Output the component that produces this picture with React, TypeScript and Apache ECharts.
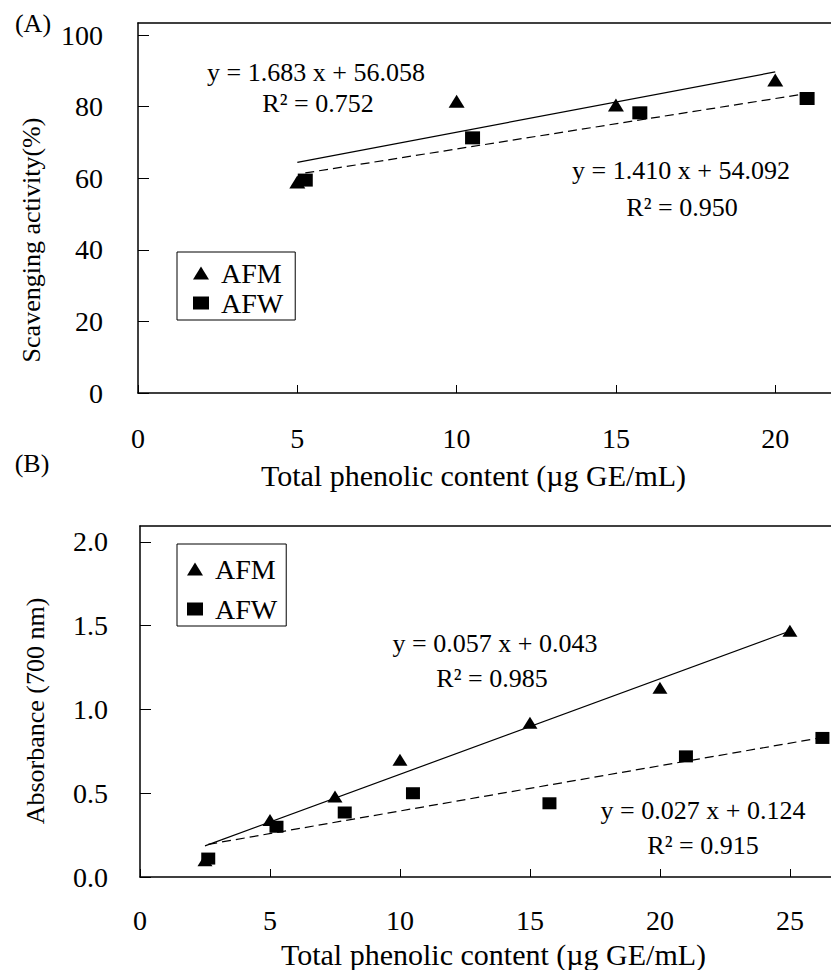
import React, { useEffect, useRef } from "react";
import * as echarts from "echarts";

// ---------- data ----------
// (A) DPPH scavenging activity vs total phenolic content
const topAFMx = [5, 10, 15, 20];
const topAFMy = [59, 81.5, 80.5, 87.5];
const topAFWx = [5.25, 10.5, 15.75, 21];
const topAFWy = [59.5, 71.3, 78.3, 82.3];
// trend line coefficients shown on chart (A): [AFM, AFW]
const topSlopes = [1.683, 1.41];
const topIntercepts = [56.058, 54.092];
const topR2 = [0.752, 0.95];

// (B) Reducing power (absorbance at 700 nm) vs total phenolic content
const botAFMx = [2.5, 5, 7.5, 10, 15, 20, 25];
const botAFMy = [0.1, 0.34, 0.48, 0.7, 0.92, 1.13, 1.47];
const botAFWx = [2.625, 5.25, 7.875, 10.5, 15.75, 21, 26.25];
const botAFWy = [0.11, 0.3, 0.385, 0.5, 0.44, 0.72, 0.83];
// trend line coefficients shown on chart (B): [AFM, AFW]
const botSlopes = [0.057, 0.027];
const botIntercepts = [0.043, 0.124];
const botR2 = [0.985, 0.915];

const seriesNames = ["AFM", "AFW"];
const xAxisTitle = "Total phenolic content (\u00b5g GE/mL)";
const topYTitle = "Scavenging activity(%)";
const botYTitle = "Absorbance (700 nm)";

const FONT = "'Liberation Serif', 'Times New Roman', Times, serif";

const zip = (xs: number[], ys: number[]) => xs.map((x, i) => [x, ys[i]]);
const fitLine = (xs: number[], m: number, b: number) => {
  const x0 = Math.min(...xs);
  const x1 = Math.max(...xs);
  return [
    [x0, m * x0 + b],
    [x1, m * x1 + b],
  ];
};
const eqText = (m: number, b: number) => `y = ${m.toFixed(3)} x + ${b.toFixed(3)}`;
const r2Text = (r: number) => `R\u00b2 = ${r.toFixed(3)}`;

const axisLine = { show: true, onZero: false, lineStyle: { color: "#000", width: 1.5 } };

function xAxisMain(gridIndex: number, max: number, margin: number, nameGap: number, namePad: number[]) {
  return {
    gridIndex,
    type: "value",
    min: 0,
    max,
    interval: 5,
    position: "bottom",
    axisLine,
    axisTick: { show: true, inside: true, length: 8, lineStyle: { color: "#000", width: 1 } },
    axisLabel: { showMaxLabel: false, margin, fontSize: 28, color: "#000", fontFamily: FONT },
    splitLine: { show: false },
    name: xAxisTitle,
    nameLocation: "middle",
    nameGap,
    nameTextStyle: { fontSize: 30, color: "#000", fontFamily: FONT, padding: namePad },
  };
}
function xAxisTop(gridIndex: number, max: number) {
  return {
    gridIndex,
    type: "value",
    min: 0,
    max,
    position: "top",
    axisLine,
    axisTick: { show: false },
    axisLabel: { show: false },
    splitLine: { show: false },
  };
}

function legendAt(left: number, top: number, itemGap: number, padding: number[]) {
  return {
    left,
    top,
    orient: "vertical",
    data: [
      { name: seriesNames[0], icon: "triangle" },
      { name: seriesNames[1], icon: "rect" },
    ],
    itemWidth: 16,
    itemHeight: 13,
    itemGap,
    padding,
    borderColor: "#000",
    borderWidth: 1,
    selectedMode: false,
    itemStyle: { opacity: 1, color: "#000" },
    textStyle: { fontFamily: FONT, fontSize: 28, color: "#000", lineHeight: 24, padding: [0, 0, 0, 7] },
  };
}

function txt(text: string, x: number, y: number, fontSize: number, rotation = 0) {
  return {
    type: "text",
    x,
    y,
    rotation,
    z: 10,
    style: {
      text,
      fill: "#000",
      font: `${fontSize}px ${FONT}`,
      textAlign: "center",
      textVerticalAlign: "middle",
    },
  };
}

const markerStyle = { color: "#000", opacity: 1 };

export default function App() {
  const ref = useRef<HTMLDivElement>(null);
  useEffect(() => {
    if (!ref.current) return;
    const chart = echarts.init(ref.current, undefined, { renderer: "svg" });
    const option = {
      animation: false,
      backgroundColor: "#fff",
      textStyle: { fontFamily: FONT },
      grid: [
        { left: 138, top: 23, right: 0, height: 370 },
        { left: 140, top: 526, right: 0, height: 352 },
      ],
      xAxis: [
        xAxisMain(0, 21.75, 31, 67, [0, 22, 0, 0]),
        xAxisTop(0, 21.75),
        xAxisMain(1, 26.58, 29, 62, [0, 0, 0, 16]),
        xAxisTop(1, 26.58),
      ],
      yAxis: [
        {
          gridIndex: 0,
          type: "value",
          min: 0,
          max: 103.4,
          interval: 20,
          axisLine,
          axisTick: { show: true, inside: true, length: 11, lineStyle: { color: "#000", width: 1 } },
          axisLabel: { showMaxLabel: false, margin: 35, fontSize: 28, color: "#000", fontFamily: FONT, padding: [8, 0, 0, 0] },
          splitLine: { show: false },
        },
        {
          gridIndex: 1,
          type: "value",
          min: 0,
          max: 2.095,
          interval: 0.5,
          axisLine,
          axisTick: { show: true, inside: true, length: 11, lineStyle: { color: "#000", width: 1 } },
          axisLabel: {
            showMaxLabel: false,
            margin: 32,
            fontSize: 28,
            color: "#000",
            fontFamily: FONT,
            padding: [8, 0, 0, 0],
            formatter: (v: number) => v.toFixed(1),
          },
          splitLine: { show: false },
        },
      ],
      legend: [legendAt(177, 252, 2, [7, 12, 3, 16]), legendAt(177, 544, 12, [11, 9, 3, 10])],
      series: [
        {
          type: "line",
          name: "AFM trend (A)",
          xAxisIndex: 0,
          yAxisIndex: 0,
          data: fitLine(topAFMx, topSlopes[0], topIntercepts[0]),
          symbol: "none",
          silent: true,
          z: 2,
          lineStyle: { color: "#000", width: 1.2, type: "solid" },
        },
        {
          type: "line",
          name: "AFW trend (A)",
          xAxisIndex: 0,
          yAxisIndex: 0,
          data: fitLine(topAFWx, topSlopes[1], topIntercepts[1]),
          symbol: "none",
          silent: true,
          z: 2,
          lineStyle: { color: "#000", width: 1.2, type: [9, 5] },
        },
        {
          type: "scatter",
          name: seriesNames[0],
          xAxisIndex: 0,
          yAxisIndex: 0,
          data: zip(topAFMx, topAFMy),
          symbol: "triangle",
          symbolSize: [16, 13],
          itemStyle: markerStyle,
          z: 3,
        },
        {
          type: "scatter",
          name: seriesNames[1],
          xAxisIndex: 0,
          yAxisIndex: 0,
          data: zip(topAFWx, topAFWy),
          symbol: "rect",
          symbolSize: [15, 13],
          itemStyle: markerStyle,
          z: 3,
        },
        {
          type: "line",
          name: "AFM trend (B)",
          xAxisIndex: 2,
          yAxisIndex: 1,
          data: fitLine(botAFMx, botSlopes[0], botIntercepts[0]),
          symbol: "none",
          silent: true,
          z: 2,
          lineStyle: { color: "#000", width: 1.2, type: "solid" },
        },
        {
          type: "line",
          name: "AFW trend (B)",
          xAxisIndex: 2,
          yAxisIndex: 1,
          data: fitLine(botAFWx, botSlopes[1], botIntercepts[1]),
          symbol: "none",
          silent: true,
          z: 2,
          lineStyle: { color: "#000", width: 1.2, type: [9, 5] },
        },
        {
          type: "scatter",
          name: seriesNames[0],
          xAxisIndex: 2,
          yAxisIndex: 1,
          data: zip(botAFMx, botAFMy),
          symbol: "triangle",
          symbolSize: [15, 12],
          itemStyle: markerStyle,
          z: 3,
        },
        {
          type: "scatter",
          name: seriesNames[1],
          xAxisIndex: 2,
          yAxisIndex: 1,
          data: zip(botAFWx, botAFWy),
          symbol: "rect",
          symbolSize: [14, 12],
          itemStyle: markerStyle,
          z: 3,
        },
      ],
      graphic: [
        txt("(A)", 33, 23, 26),
        txt("(B)", 32, 463, 26),
        txt(topYTitle, 31, 240, 26, Math.PI / 2),
        txt(botYTitle, 35, 711, 26, Math.PI / 2),
        txt(eqText(topSlopes[0], topIntercepts[0]), 316, 72, 26),
        txt(r2Text(topR2[0]), 318, 103, 26),
        txt(eqText(topSlopes[1], topIntercepts[1]), 681, 170, 26),
        txt(r2Text(topR2[1]), 682, 207, 26),
        txt(eqText(botSlopes[0], botIntercepts[0]), 495, 643, 26),
        txt(r2Text(botR2[0]), 492, 678, 26),
        txt(eqText(botSlopes[1], botIntercepts[1]), 703, 810, 26),
        txt(r2Text(botR2[1]), 703, 845, 26),
      ],
    };
    chart.setOption(option as any);
    return () => chart.dispose();
  }, []);
  return (
    <div
      ref={ref}
      style={{ position: "absolute", left: 0, top: 0, width: 831, height: 970, background: "#fff" }}
    />
  );
}
